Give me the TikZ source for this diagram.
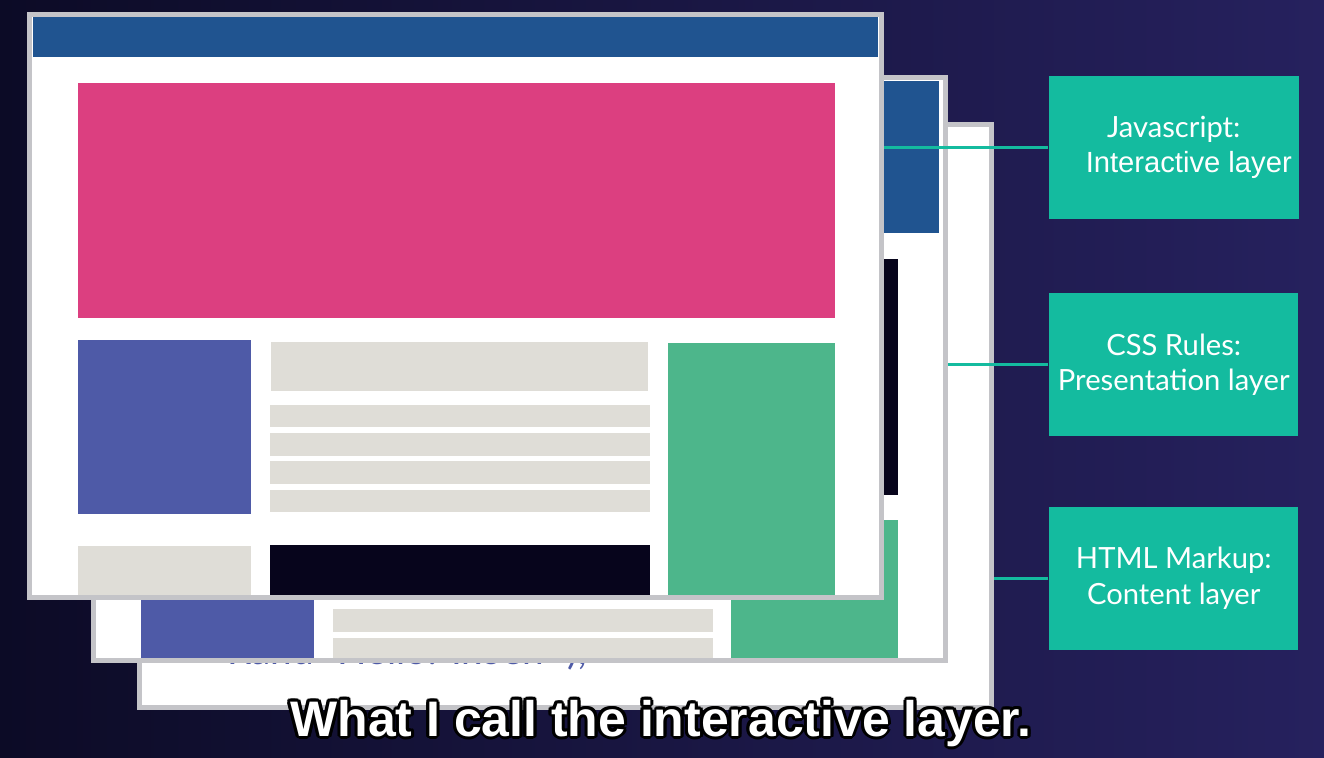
\documentclass[tikz,border=0pt]{standalone}
\usepackage{fontspec}
\setmainfont{Lato}
\newfontfamily\capfont{Liberation Sans}
\usepackage{xcolor}
\usetikzlibrary{positioning}
\definecolor{bgleft}{RGB}{12,11,38}
\definecolor{bgright}{RGB}{38,33,94}
\definecolor{frame}{RGB}{196,196,200}
\definecolor{header}{RGB}{32,84,144}
\definecolor{hero}{RGB}{220,63,128}
\definecolor{sidebox}{RGB}{78,90,167}
\definecolor{textline}{RGB}{223,221,215}
\definecolor{aside}{RGB}{77,182,139}
\definecolor{footer}{RGB}{7,5,28}
\definecolor{label}{RGB}{20,187,159}
\begin{document}
\begin{tikzpicture}[
  x=0.01cm, y=-0.01cm,
  layer/.style={draw=frame, line width=0.05cm, fill=white, inner sep=0,
                minimum width=8.51cm, minimum height=5.83cm, anchor=north west},
  labelbox/.style={fill=label, minimum width=2.49cm, minimum height=1.43cm, inner sep=2pt,
                   text=white, align=center, font=\fontsize{8.3}{10}\selectfont},
  link/.style={draw=label, line width=0.03cm},
  caption/.style={anchor=base, font=\capfont\bfseries\fontsize{14.2}{16}\selectfont}
]
\shade[left color=bgleft, right color=bgright] (0,0) rectangle (1324,758);
\useasboundingbox (0,0) rectangle (1324,758);

% back page
\node[layer] (back) at (137,122) {};
\node[anchor=base west, text=sidebox, font=\fontsize{11}{13}\selectfont] (backcode)
  at (215,664) {Rand "Hello! Ikoen" );};

% middle page
\node[layer] (middle) at (91,75) {};
\fill[header] (97,81) rectangle (939,233);
\fill[footer] (500,259) rectangle (898,495);
\fill[aside] (731,520) rectangle (898,658);
\fill[sidebox] (141,480) rectangle (314,658);
\fill[textline] (333,609) rectangle (713,632);
\fill[textline] (333,638) rectangle (713,658);

% front page
\node[layer] (front) at (27,12) {};
\fill[header] (33,17) rectangle (878,57);
\fill[hero] (78,83) rectangle (835,318);
\fill[sidebox] (78,340) rectangle (251,514);
\fill[textline] (271,342) rectangle (648,391);
\foreach \t/\b in {405/427,433/456,461/484,490/512}
  \fill[textline] (270,\t) rectangle (650,\b);
\fill[aside] (668,343) rectangle (835,595);
\fill[textline] (78,546) rectangle (251,595);
\fill[footer] (270,545) rectangle (650,595);

% labels
\node[labelbox, anchor=north west] (js) at (1048,75)
  {Javascript:\\\hspace*{0.3cm}{\capfont Interactive layer}};
\node[labelbox, below=0.73cm of js] (css) {CSS Rules:\\Presentation layer};
\node[labelbox, below=0.69cm of css] (html) {HTML Markup:\\Content layer};
\draw[link] (js.west) -- (js.west -| front.east);
\draw[link] (css.west) -- (css.west -| middle.east);
\draw[link] (html.west) -- (html.west -| back.east);

% subtitle
\foreach \a in {0,30,...,330}
  \node[caption, text=black] (capedge\a) at ([shift={(\a:3)}]661,736)
    {What I call the interactive layer.};
\node[caption, text=white] (cap) at (661,736) {What I call the interactive layer.};
\end{tikzpicture}
\end{document}
